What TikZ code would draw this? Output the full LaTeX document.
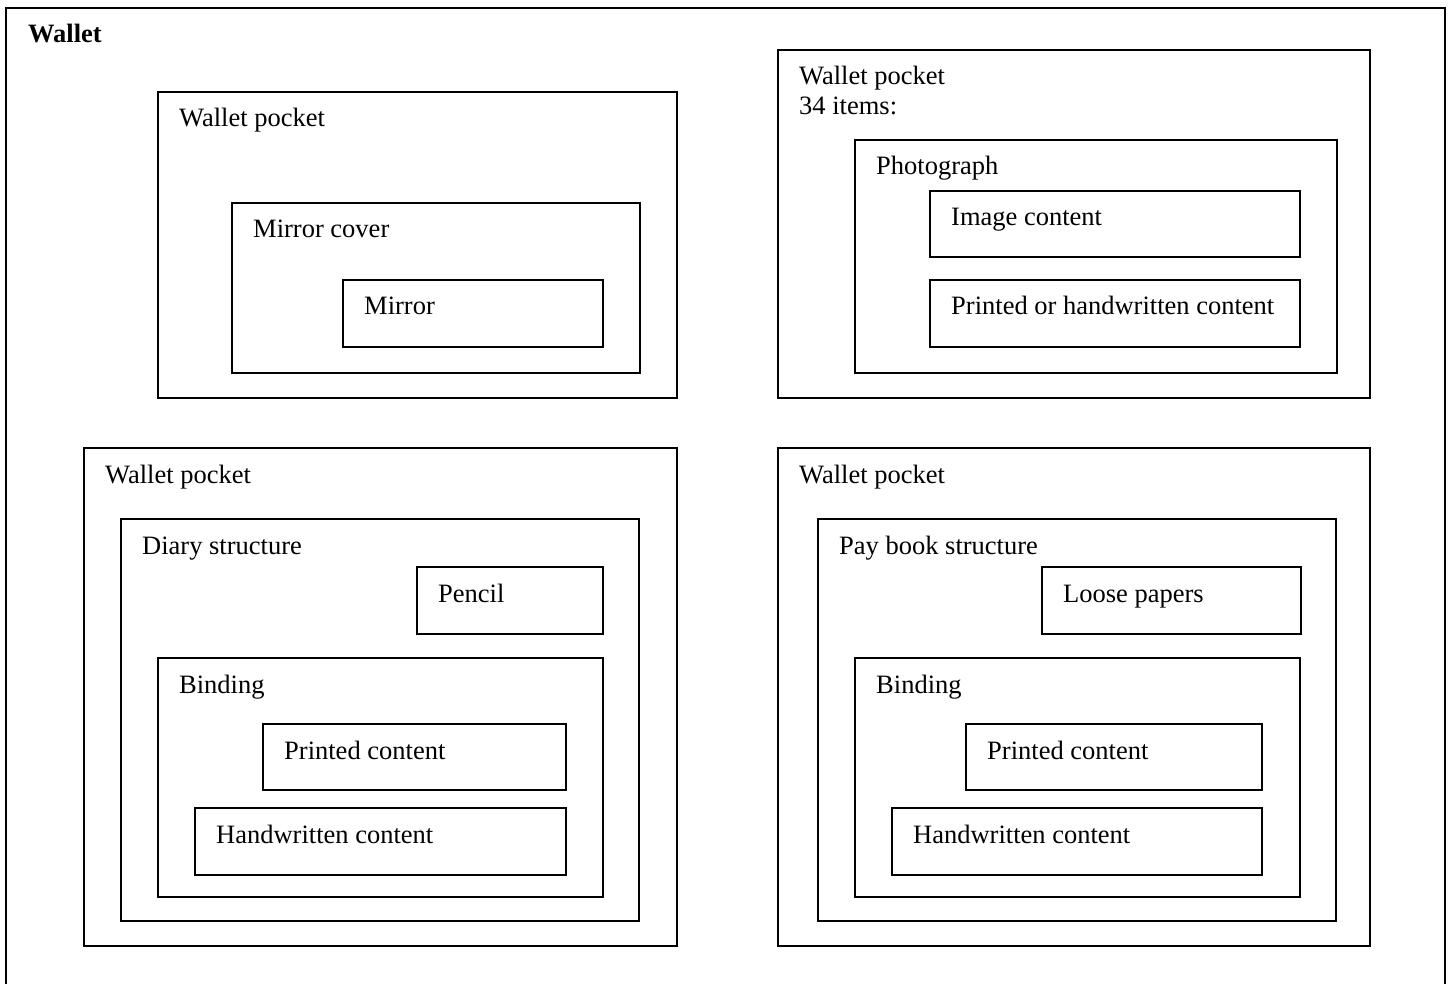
\documentclass[tikz,border=0pt]{standalone}
\usepackage{fontspec}
\setmainfont{Liberation Serif}
\usetikzlibrary{fit}
\tikzset{
  boxline/.style={draw=black, line width=2pt, inner sep=0pt, outer sep=0pt, fit=#1},
  lbl/.style={anchor=base west, inner sep=0pt, font=\fontsize{26.5}{30}\selectfont},
}
\newcommand\wbox[6]{%
  \coordinate (#1-a) at (#2,#3);
  \coordinate (#1-b) at (#4,#5);
  \node[boxline={(#1-a)(#1-b)}] (#1) {};
  \node[lbl] (#1-t) at ([shift={(21,35)}]#1.north west) {#6};
}
\begin{document}
\begin{tikzpicture}[x=1pt,y=-1pt]
\clip (0,0) rectangle (1451,984);
\fill[white] (0,0) rectangle (1451,984);
% outer wallet
\coordinate (w-a) at (6,8);
\coordinate (w-b) at (1445,1010);
\node[boxline={(w-a)(w-b)}] (wallet) {};
\node[lbl, font=\fontsize{26.5}{30}\selectfont\bfseries] (wallet-t) at (28,43) {Wallet};
% pocket 1
\wbox{p1}{158}{92}{677}{398}{Wallet pocket}
\wbox{mc}{232}{203}{640}{373}{Mirror cover}
\wbox{mi}{343}{280}{603}{347}{Mirror}
% pocket 2
\wbox{p2}{778}{50}{1370}{398}{Wallet pocket}
\node[lbl] (p2-t2) at ([shift={(0,30)}]p2-t.base west) {34 items:};
\wbox{ph}{855}{140}{1337}{373}{Photograph}
\wbox{ic}{930}{191}{1300}{257}{Image content}
\wbox{pc}{930}{280}{1300}{347}{Printed or handwritten content}
% pocket 3
\wbox{p3}{84}{448}{677}{946}{Wallet pocket}
\wbox{ds}{121}{519}{639}{921}{Diary structure}
\wbox{pe}{417}{567}{603}{634}{Pencil}
\wbox{b1}{158}{658}{603}{897}{Binding}
\wbox{pr1}{263}{724}{566}{790}{Printed content}
\wbox{hw1}{195}{808}{566}{875}{Handwritten content}
% pocket 4
\wbox{p4}{778}{448}{1370}{946}{Wallet pocket}
\wbox{pb}{818}{519}{1336}{921}{Pay book structure}
\wbox{lp}{1042}{567}{1301}{634}{Loose papers}
\wbox{b2}{855}{658}{1300}{897}{Binding}
\wbox{pr2}{966}{724}{1262}{790}{Printed content}
\wbox{hw2}{892}{808}{1262}{875}{Handwritten content}
\end{tikzpicture}
\end{document}
